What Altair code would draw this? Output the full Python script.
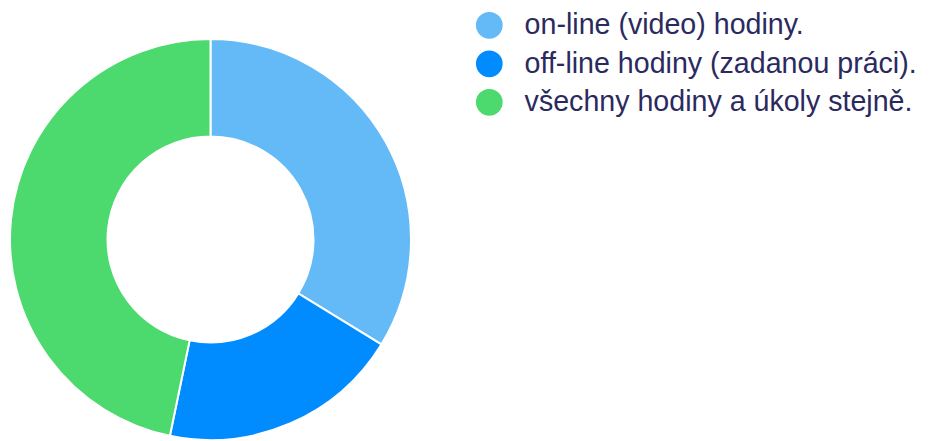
import altair as alt
import pandas as pd

categories = ["on-line (video) hodiny.", "off-line hodiny (zadanou práci).", "všechny hodiny a úkoly stejně."]
values = [26, 15, 36]
colors = ["#63baf6", "#008cff", "#4cd96e"]

df = pd.DataFrame({"kategorie": categories, "hodnota": values, "poradi": [0, 1, 2]})

chart = alt.Chart(df).mark_arc(
    outerRadius=200.5, innerRadius=103, stroke="white", strokeWidth=2
).encode(
    x=alt.value(202.5),
    y=alt.value(231.5),
    theta=alt.Theta("hodnota:Q", stack=True),
    order=alt.Order("poradi:Q"),
    color=alt.Color(
        "kategorie:N",
        sort=categories,
        scale=alt.Scale(domain=categories, range=colors),
        legend=alt.Legend(
            title=None,
            orient="none",
            legendX=467,
            legendY=3,
            padding=0,
            symbolType="circle",
            symbolSize=713,
            symbolStrokeWidth=0,
            labelFontSize=28.6,
            labelFont="Liberation Sans",
            labelColor="#2b2a5e",
            labelOffset=21,
            rowPadding=9.5,
            labelLimit=600,
        ),
    ),
).properties(
    width=916, height=463, padding=0, autosize="none"
).configure_view(stroke=None)

chart.save("out.html", embed_options={"renderer": "svg", "actions": False})
